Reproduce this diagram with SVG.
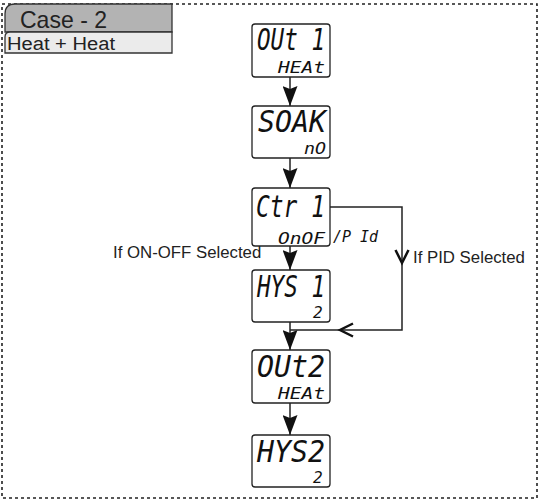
<svg xmlns="http://www.w3.org/2000/svg" width="540" height="502" viewBox="0 0 540 502">
<defs>
<marker id="fill" viewBox="0 0 20 15" refX="20" refY="7.5" markerWidth="20" markerHeight="15" markerUnits="userSpaceOnUse" orient="auto">
<path d="M0,0 L20,7.5 L0,15 L3,7.5 Z" fill="#111"/>
</marker>
</defs>
<style>
.frame{fill:none;stroke:#222;stroke-width:1.6;stroke-dasharray:3 3}
.disp{fill:#fff;stroke:#222;stroke-width:1.3}
.seg{font-family:"DejaVu Sans Mono",monospace;font-style:italic;fill:#111}
.big{font-size:31px}
.small{font-size:16px}
.lbl{font-family:"Liberation Sans",Arial,sans-serif;font-size:16.8px;fill:#222}
.ln{fill:none;stroke:#222;stroke-width:1.5}
.open{fill:none;stroke:#111;stroke-width:2.5}
.arr{fill:none;stroke:#222;stroke-width:1.5;marker-end:url(#fill)}
</style>
<rect class="frame" x="2" y="4" width="535" height="494"/>
<g id="case">
<path d="M5,32 L5,14 Q5,4 15,4 L172,4 L172,32 Z" fill="#b3b3b3" stroke="#333" stroke-width="1.3"/>
<text x="20" y="28" font-family="Liberation Sans,Arial,sans-serif" font-size="24" fill="#222" textLength="87" lengthAdjust="spacingAndGlyphs">Case - 2</text>
<path d="M5,53 L5,37 Q5,32 10,32 L172,32 L172,53 Z" fill="#ebebeb" stroke="#333" stroke-width="1.3"/>
<text x="7" y="50" font-family="Liberation Sans,Arial,sans-serif" font-size="18" fill="#222" textLength="108" lengthAdjust="spacingAndGlyphs">Heat + Heat</text>
</g>
<g id="connectors">
<line class="arr" x1="290" y1="77" x2="290" y2="106"/>
<line class="arr" x1="290" y1="158" x2="290" y2="188"/>
<line class="arr" x1="290" y1="246" x2="290" y2="270"/>
<line class="arr" x1="290" y1="322" x2="290" y2="350"/>
<line class="arr" x1="290" y1="403" x2="290" y2="435"/>
<polyline class="ln" points="330,207 402,207 402,330 290,330"/>
<polyline class="open" points="395.5,250 402,263 408.5,250"/>
<polyline class="open" points="353,323.5 340,330 353,336.5"/>
</g>
<g id="out1">
<rect class="disp" x="252" y="24" width="78" height="53" rx="3"/>
<text class="seg big" x="257" y="50" textLength="68" lengthAdjust="spacingAndGlyphs">OUt 1</text>
<text class="seg small" x="278" y="73" textLength="47" lengthAdjust="spacingAndGlyphs">HEAt</text>
</g>
<g id="soak">
<rect class="disp" x="252" y="106" width="78" height="52" rx="3"/>
<text class="seg big" x="258" y="132" textLength="68" lengthAdjust="spacingAndGlyphs">SOAK</text>
<text class="seg small" x="304" y="154" textLength="22" lengthAdjust="spacingAndGlyphs">nO</text>
</g>
<g id="ctr1">
<rect class="disp" x="252" y="188" width="78" height="58" rx="3"/>
<text class="seg big" x="256" y="217" textLength="69" lengthAdjust="spacingAndGlyphs">Ctr 1</text>
<text class="seg small" x="278" y="244" textLength="47" lengthAdjust="spacingAndGlyphs">OnOF</text>
<text class="seg small" x="333" y="242" textLength="45" lengthAdjust="spacingAndGlyphs">/P Id</text>
</g>
<g id="hys1">
<rect class="disp" x="252" y="270" width="78" height="52" rx="3"/>
<text class="seg big" x="257" y="297" textLength="68" lengthAdjust="spacingAndGlyphs">HYS 1</text>
<text class="seg small" x="313" y="318">2</text>
</g>
<g id="out2">
<rect class="disp" x="252" y="350" width="78" height="53" rx="3"/>
<text class="seg big" x="257" y="377" textLength="68" lengthAdjust="spacingAndGlyphs">OUt2</text>
<text class="seg small" x="278" y="399" textLength="47" lengthAdjust="spacingAndGlyphs">HEAt</text>
</g>
<g id="hys2">
<rect class="disp" x="252" y="435" width="78" height="52" rx="3"/>
<text class="seg big" x="257" y="462" textLength="68" lengthAdjust="spacingAndGlyphs">HYS2</text>
<text class="seg small" x="313" y="483">2</text>
</g>
<g id="labels">
<text class="lbl" x="113" y="258">If ON-OFF Selected</text>
<text class="lbl" x="413" y="263">If PID Selected</text>
</g>
</svg>
